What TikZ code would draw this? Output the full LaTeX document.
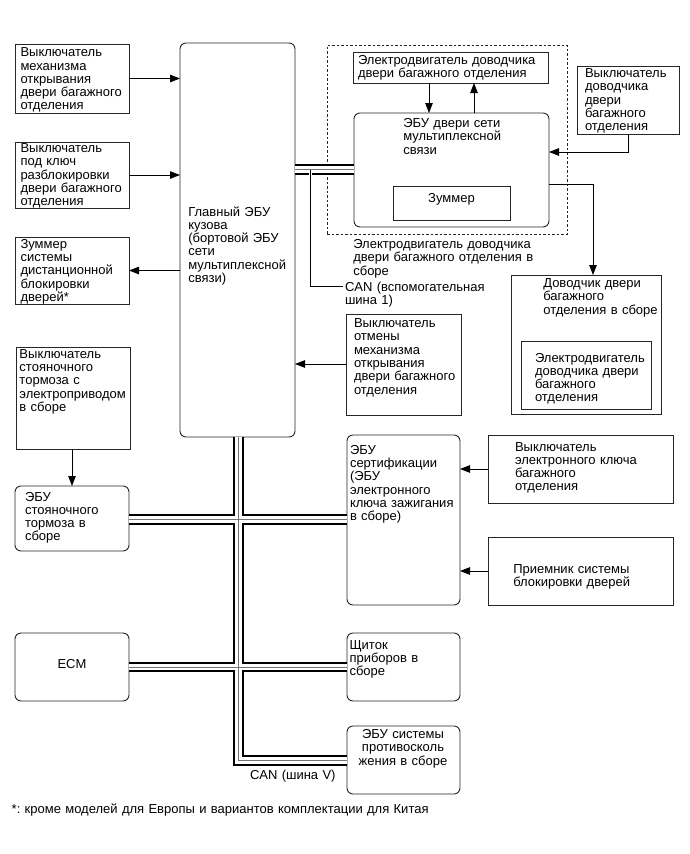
\documentclass[tikz,border=0pt]{standalone}
\usepackage{fontspec}
\setmainfont{Liberation Sans}
\usetikzlibrary{arrows.meta,calc}
\frenchspacing
\newcommand\dfs{\fontsize{13}{13.3}\selectfont}
\tikzset{
  box/.style={draw=black!85, line width=0.9pt, inner sep=0pt, outer sep=0pt, anchor=north west},
  rbox/.style={box, rounded corners=6pt},
  dbox/.style={box, dash pattern=on 2.5pt off 2pt},
  txt/.style={inner sep=0pt, outer sep=0pt, anchor=base west, align=left, text width=220pt, font=\dfs},
  ctxt/.style={inner sep=0pt, outer sep=0pt, anchor=base, align=center, text width=140pt, font=\dfs},
  arr/.style={draw=black, line width=0.9pt, -{Triangle[length=10pt,width=7.5pt]}},
  busA/.style={line width=10.7pt, black},
  busB/.style={line width=6.2pt, white},
  busC/.style={line width=0.9pt, black!55},
  thin/.style={draw=black, line width=0.9pt}
}
\begin{document}
\begin{tikzpicture}[x=1pt,y=-1pt]
\useasboundingbox[fill=white] (0,0) rectangle (690,854);

% ---- boxes ----
\node[box, minimum width=114pt, minimum height=69pt] (b1) at (15,44) {};
\node[box, minimum width=114pt, minimum height=66pt] (b2) at (15,142) {};
\node[box, minimum width=114pt, minimum height=67pt] (b3) at (15,237) {};
\node[box, minimum width=114pt, minimum height=102pt] (b4) at (16,347) {};
\node[rbox, minimum width=114pt, minimum height=65pt] (b5) at (15,486) {};
\node[rbox, minimum width=114pt, minimum height=68pt] (ecm) at (15,633) {};
\node[rbox, minimum width=115pt, minimum height=394pt] (main) at (180,43) {};
\node[dbox, minimum width=240pt, minimum height=189pt] (dash) at (327,45) {};
\node[box, minimum width=195pt, minimum height=31pt] (motor) at (353,52) {};
\node[rbox, minimum width=195pt, minimum height=114pt] (door) at (354,113) {};
\node[box, minimum width=117pt, minimum height=34pt] (buz) at (393,186) {};
\node[box, minimum width=102pt, minimum height=68pt] (rsw) at (577,66) {};
\node[box, minimum width=150pt, minimum height=139pt] (closer) at (511,275) {};
\node[box, minimum width=130pt, minimum height=68pt] (imotor) at (521,341) {};
\node[box, minimum width=115pt, minimum height=101pt] (cancel) at (346,314) {};
\node[rbox, minimum width=113pt, minimum height=170pt] (cert) at (347,435) {};
\node[box, minimum width=185pt, minimum height=68pt] (keysw) at (488,435) {};
\node[box, minimum width=185pt, minimum height=68pt] (recv) at (488,537) {};
\node[rbox, minimum width=113pt, minimum height=68pt] (shch) at (347,633) {};
\node[rbox, minimum width=113pt, minimum height=68pt] (skid) at (347,726) {};

% ---- CAN buses ----
\coordinate (auxA) at (295,169.5);
\coordinate (auxB) at (354,169.5);
\coordinate (vtop) at (238.5,437);
\coordinate (h1) at (238.5,519.5);
\coordinate (h2) at (238.5,667);
\coordinate (vbot) at (238.5,760.5);
\foreach \s in {busA,busB,busC}{
  \draw[\s] (auxA) -- (auxB);
  \draw[\s] (vtop) -- (vbot) -- (skid.west |- vbot);
  \draw[\s] (b5.east |- h1) -- (cert.west |- h1);
  \draw[\s] (ecm.east |- h2) -- (shch.west |- h2);
}
% branch of auxiliary bus to its label
\coordinate (brA) at (310.5,169.5);
\coordinate (brB) at (310.5,286);
\coordinate (brC) at (343,286);
\fill[white] (308.8,171) rectangle (312.2,176);
\draw[thin] (brA) -- (brB) -- (brC);

% ---- arrows ----
\draw[arr] (b1.east) -- (b1.east -| main.west);
\draw[arr] (b2.east) -- (b2.east -| main.west);
\draw[arr] (b3.east -| main.west) -- (b3.east);
\draw[arr] ([xshift=-1pt]b4.south) -- ([xshift=-1pt]b4.south |- b5.north);
\draw[arr] ([xshift=76pt]motor.south west) -- ([xshift=76pt]motor.south west |- door.north);
\draw[arr] ([xshift=120pt]door.north west) -- ([xshift=120pt]door.north west |- motor.south);
\draw[arr] (rsw.south) |- ([yshift=-39pt]door.north east);
\draw[arr] ([yshift=-71pt]door.north east) -| ([xshift=82pt]closer.north west);
\draw[arr] (cancel.west |- 0,364) -- (main.east |- 0,364);
\draw[arr] (keysw.west |- 0,469) -- (cert.east |- 0,469);
\draw[arr] (recv.west |- 0,571) -- (cert.east |- 0,571);

% ---- texts ----
\node[txt] (t1) at (20.5,56.7) {Выключатель\\механизма\\открывания\\двери багажного\\отделения};
\node[txt] (t2) at (20.5,152.6) {Выключатель\\под ключ\\разблокировки\\двери багажного\\отделения};
\node[txt] (t3) at (20.5,248.3) {Зуммер\\системы\\дистанционной\\блокировки\\дверей*};
\node[txt] (t4) at (19.5,358.3) {Выключатель\\стояночного\\тормоза с\\электроприводом\\в сборе};
\node[txt] (t5) at (25,501) {ЭБУ\\стояночного\\тормоза в\\сборе};
\node[ctxt] (tecm) at (72,668) {ECM};
\node[txt] (tmain) at (188.3,216) {Главный ЭБУ\\кузова\\(бортовой ЭБУ\\сети\\мультиплексной\\связи)};
\node[txt] (tmotor) at (358,64.3) {Электродвигатель доводчика\\двери багажного отделения};
\node[txt] (tdoor) at (403.3,127.6) {ЭБУ двери сети\\мультиплексной\\связи};
\node[ctxt] (tbuz) at (451.5,202.6) {Зуммер};
\node[txt] (trsw) at (585,77.6) {Выключатель\\доводчика\\двери\\багажного\\отделения};
\node[txt] (tdash) at (353.3,248.6) {Электродвигатель доводчика\\двери багажного отделения в\\сборе};
\node[txt] (tcan1) at (345,291) {CAN (вспомогательная\\шина 1)};
\node[txt] (tcloser) at (543.3,287.6) {Доводчик двери\\багажного\\отделения в сборе};
\node[txt] (timotor) at (535,362) {Электродвигатель\\доводчика двери\\багажного\\отделения};
\node[txt] (tcancel) at (354,327.6) {Выключатель\\отмены\\механизма\\открывания\\двери багажного\\отделения};
\node[txt] (tcert) at (350,454.3) {ЭБУ\\сертификации\\(ЭБУ\\электронного\\ключа зажигания\\в сборе)};
\node[txt] (tkeysw) at (515,451) {Выключатель\\электронного ключа\\багажного\\отделения};
\node[txt] (trecv) at (513.3,573.3) {Приемник системы\\блокировки дверей};
\node[txt] (tshch) at (349.5,649.3) {Щиток\\приборов в\\сборе};
\node[ctxt] (tskid) at (403,738.6) {ЭБУ системы\\противосколь\\жения в сборе};
\node[txt] (tcanv) at (250,779) {CAN (шина V)};
\node[txt, text width=600pt] (tfoot) at (11.7,813) {*: кроме моделей для Европы и вариантов комплектации для Китая};
\end{tikzpicture}
\end{document}
